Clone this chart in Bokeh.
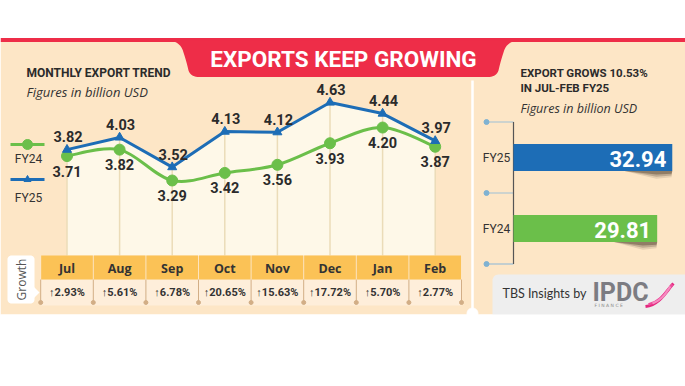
import numpy as np
from bokeh.plotting import figure
from bokeh.models import Range1d
from bokeh.core.properties import value
from bokeh.embed import file_html
from bokeh.resources import INLINE

# ---------------- data ----------------
months = ["Jul", "Aug", "Sep", "Oct", "Nov", "Dec", "Jan", "Feb"]
fy24 = [3.71, 3.82, 3.29, 3.42, 3.56, 3.93, 4.20, 3.87]
fy25 = [3.82, 4.03, 3.52, 4.13, 4.12, 4.63, 4.44, 3.97]
growth = [2.93, 5.61, 6.78, 20.65, 15.63, 17.72, 5.70, 2.77]
series_names = ["FY24", "FY25"]
total_labels = ["FY24", "FY25"]
totals = [29.81, 32.94]
title_text = "EXPORTS KEEP GROWING"
left_heading = "MONTHLY EXPORT TREND"
right_heading = ["EXPORT GROWS 10.53%", "IN JUL-FEB FY25"]
unit_note = "Figures in billion USD"

# ---------------- style ----------------
CREAM = "#FDE6C6"
LIGHT = "#FEF8E8"
ROWBG = "#FEEEDA"
RED = "#EE2D48"
YELLOW = "#FBC256"
GRID = "#EBDCB8"
TAN = "#D2AE86"
DARK = "#2B2B2B"
BLUE = "#1D6DB6"
GREEN = "#6BBF4A"
NARROW = "Roboto"
SANS = "Open Sans"

W, H = 685, 386
p = figure(width=W, height=H, x_range=Range1d(0, W), y_range=Range1d(H, 0),
           output_backend="svg", toolbar_location=None, min_border=0,
           x_axis_type=None, y_axis_type=None, outline_line_color=None,
           background_fill_color="white", border_fill_color="white")

# line-chart scales (month index / billion USD) placed into the page
X0, DX = 66.5, 52.6
VREF, PYREF, PPV = 3.29, 180.0, 58.2
p.extra_x_ranges["lx"] = Range1d((0 - X0) / DX, (W - X0) / DX)
p.extra_y_ranges["ly"] = Range1d(VREF - (H - PYREF) / PPV, VREF + (PYREF - 0) / PPV)
HEADER_TOP = 255.0
base_v = VREF - (HEADER_TOP - PYREF) / PPV

# bar-chart scales
BX0, BPX = 513.0, 4.82
BY0, BPY = 228.0, 71.0
p.extra_x_ranges["bx"] = Range1d((0 - BX0) / BPX, (W - BX0) / BPX)
p.extra_y_ranges["by"] = Range1d((BY0 - H) / BPY, (BY0 - 0) / BPY)

def txt(x, y, t, size, color=DARK, font=NARROW, style="normal", align="left",
        baseline="middle", angle=0.0, **kw):
    p.text(x=x, y=y, text=t, text_font_size=size, text_color=color,
           text_font=value(font), text_font_style=style, text_align=align,
           text_baseline=baseline, angle=angle, **kw)

def rounded(x0, y0, x1, y1, r):
    xs, ys = [], []
    for cx, cy, a0 in [(x1 - r, y0 + r, -np.pi / 2), (x1 - r, y1 - r, 0),
                       (x0 + r, y1 - r, np.pi / 2), (x0 + r, y0 + r, np.pi)]:
        a = np.linspace(a0, a0 + np.pi / 2, 8)
        xs += list(cx + r * np.cos(a)); ys += list(cy + r * np.sin(a))
    return xs, ys

def qbez(p0, c, p1, n=10):
    t = np.linspace(0, 1, n)
    x = (1 - t) ** 2 * p0[0] + 2 * (1 - t) * t * c[0] + t ** 2 * p1[0]
    y = (1 - t) ** 2 * p0[1] + 2 * (1 - t) * t * c[1] + t ** 2 * p1[1]
    return list(x), list(y)

# ---------------- background ----------------
p.quad(left=0, right=W, top=41, bottom=314, fill_color=CREAM, line_color=None)
p.quad(left=0, right=W, top=37.5, bottom=41.5, fill_color=RED, line_color=None)

# title tab
tx, ty = [], []
for seg in [((166, 40), (180, 40), (183, 52)), ((183, 52), (186, 61), (188, 70)),
            ((188, 70), (190, 76.5), (199, 76.5)), ((199, 76.5), (343, 76.5), (487, 76.5)),
            ((487, 76.5), (496, 76.5), (498, 70)), ((498, 70), (500, 61), (503, 52)),
            ((503, 52), (506, 40), (520, 40))]:
    a, b = qbez(*seg)
    tx += a; ty += b
p.patch(tx, ty, fill_color=RED, line_color=None)
txt([343], [58.5], [title_text], "22.5px", color="white", style="bold", align="center")

# headings
txt([26], [72], [left_heading], "12px", style="bold")
txt([26], [91], [unit_note], "13px", color="#333333", font=SANS, style="italic")
txt([520], [72.5], [right_heading[0]], "11.5px", style="bold")
txt([520], [87], [right_heading[1]], "11.5px", style="bold")
txt([520], [108], [unit_note], "12.5px", color="#333333", font=SANS, style="italic")

# ---------------- line chart ----------------
idx = list(range(len(months)))
p.varea(x=idx, y1=[base_v] * len(idx), y2=fy25, fill_color=LIGHT,
        x_range_name="lx", y_range_name="ly")
p.segment(x0=idx, y0=fy25, x1=idx, y1=[base_v] * len(idx), line_color=GRID,
          line_width=1.5, x_range_name="lx", y_range_name="ly")

# header + growth row
p.quad(left=[-0.5], right=[len(idx) - 0.5], top=[279], bottom=[305], fill_color=ROWBG,
       line_color=None, x_range_name="lx")
p.rect(x=idx, y=[267] * len(idx), width=0.982, height=24, fill_color=YELLOW,
       line_color=None, x_range_name="lx")
seps = [i - 0.5 for i in range(len(idx) + 1)]
p.segment(x0=seps, y0=[279] * len(seps), x1=seps, y1=[302] * len(seps),
          line_color=TAN, line_width=1, x_range_name="lx")
p.scatter(seps, [302] * len(seps), size=4, color=TAN, x_range_name="lx")
txt(idx, [267.5] * len(idx), months, "12.5px", color="#333333", font=SANS, style="bold",
    align="center", x_range_name="lx")
txt(idx, [292] * len(idx), ["\u2191%.2f%%" % g for g in growth], "11px",
    color="#333333", style="bold", align="center", x_range_name="lx")

# growth tag
gx, gy = rounded(7, 255, 34, 303, 4)
p.patch(gx, gy, fill_color="white", line_color=None)
p.patch([33, 39, 33], [286, 292, 298], fill_color="white", line_color=None)
txt([21], [279], ["Growth"], "12px", color="#555555", font=SANS, align="center",
    angle=np.pi / 2)

# FY24 smooth curve (Catmull-Rom through the data points)
n = len(idx)
x0s, y0s, x1s, y1s, c0x, c0y, c1x, c1y = [], [], [], [], [], [], [], []
for i in range(n - 1):
    xm, ym = idx[max(i - 1, 0)], fy24[max(i - 1, 0)]
    xp, yp = idx[min(i + 2, n - 1)], fy24[min(i + 2, n - 1)]
    x0s.append(idx[i]); y0s.append(fy24[i]); x1s.append(idx[i + 1]); y1s.append(fy24[i + 1])
    c0x.append(idx[i] + (idx[i + 1] - xm) / 6); c0y.append(fy24[i] + (fy24[i + 1] - ym) / 6)
    c1x.append(idx[i + 1] - (xp - idx[i]) / 6); c1y.append(fy24[i + 1] - (yp - fy24[i]) / 6)
p.bezier(x0=x0s, y0=y0s, x1=x1s, y1=y1s, cx0=c0x, cy0=c0y, cx1=c1x, cy1=c1y,
         line_color=GREEN, line_width=3, x_range_name="lx", y_range_name="ly")
p.scatter(idx, fy24, size=11, color=GREEN, x_range_name="lx", y_range_name="ly")

p.line(idx, fy25, line_color=BLUE, line_width=3, x_range_name="lx", y_range_name="ly")
p.scatter(idx, fy25, marker="triangle", size=9, color=BLUE, x_range_name="lx", y_range_name="ly")

txt(idx, fy25, ["%.2f" % v for v in fy25], "14.5px", style="bold", align="center",
    y_offset=-13, x_offset=1, x_range_name="lx", y_range_name="ly")
txt(idx, fy24, ["%.2f" % v for v in fy24], "14.5px", style="bold", align="center",
    y_offset=15, x_range_name="lx", y_range_name="ly")

# legend
p.segment(x0=[10, 10], y0=[144, 179], x1=[44, 44], y1=[144, 179],
          line_color=[GREEN, BLUE], line_width=3)
p.scatter([27], [144], size=10, color=GREEN)
p.scatter([27], [179], marker="triangle", size=7, color=BLUE)
txt([28, 28], [158, 197], series_names, "12px", color="#333333", align="center")

# ---------------- right panel ----------------
p.segment(x0=[472], y0=[80], x1=[472], y1=[313], line_color="white", line_width=2.5)
p.scatter([472], [313], size=11, color="white")

ky = list(range(len(totals)))
ticks = [k - 0.5 for k in range(len(totals) + 1)]
p.segment(x0=[-27 / BPX] * len(ticks), y0=ticks, x1=[0] * len(ticks), y1=ticks,
          line_color="#9DBFD6", line_width=1.2, x_range_name="bx", y_range_name="by")
p.scatter([-27 / BPX] * len(ticks), ticks, size=5, color="#7FB2D2",
          x_range_name="bx", y_range_name="by")
p.segment(x0=[0], y0=[ticks[0]], x1=[0], y1=[ticks[-1]], line_color="#555555",
          line_width=1.2, x_range_name="bx", y_range_name="by")

# bar shadows
for k, v in zip(ky, totals):
    b = k - 0.19
    for w, a in [(0.11, 0.12), (0.08, 0.22), (0.05, 0.35)]:
        p.patch([v * 0.70, v, v * 0.995, v * 0.9, v * 0.8],
                [b, b, b - w * 0.8, b - w, b - w * 0.5],
                fill_color="#3A2A1A", fill_alpha=a, line_color=None,
                x_range_name="bx", y_range_name="by")
p.hbar(y=ky, left=0, right=totals, height=0.38, fill_color=[GREEN, BLUE],
       line_color=None, x_range_name="bx", y_range_name="by")
txt(totals, ky, ["%.2f" % v for v in totals], "22px", color="white", style="bold",
    align="right", x_offset=-6, y_offset=1, x_range_name="bx", y_range_name="by")
txt([-17 / BPX] * len(ky), ky, total_labels, "12px", color="#333333", align="center",
    x_range_name="bx", y_range_name="by")

# logo box
lx_, ly_ = rounded(492, 274, 700, 330, 6)
p.patch(lx_, ly_, fill_color="#EEEEEE", line_color=None)
p.quad(left=0, right=W, top=314, bottom=H, fill_color="white", line_color=None)
txt([502], [293], ["TBS Insights by"], "12.5px", color="#333333", font="Lato")
txt([592], [292], ["IPDC"], "25px", color="#7C7C82", style="bold", font=NARROW)
txt([594], [305], ["F  I  N  A  N  C  E"], "4.5px", color="#8A8A8A", font="DejaVu Sans")
p.bezier(x0=[645, 648, 652], y0=[306, 304, 303], x1=[673, 672, 670], y1=[283, 284, 286],
         cx0=[660, 662, 664], cy0=[304, 300, 298], cx1=[666, 666, 665], cy1=[290, 290, 292],
         line_color=["#E4287F", "#EE4C9C", "#F58CC0"], line_width=[3, 2.5, 2])

open("out.html", "w").write(file_html(p, INLINE))
